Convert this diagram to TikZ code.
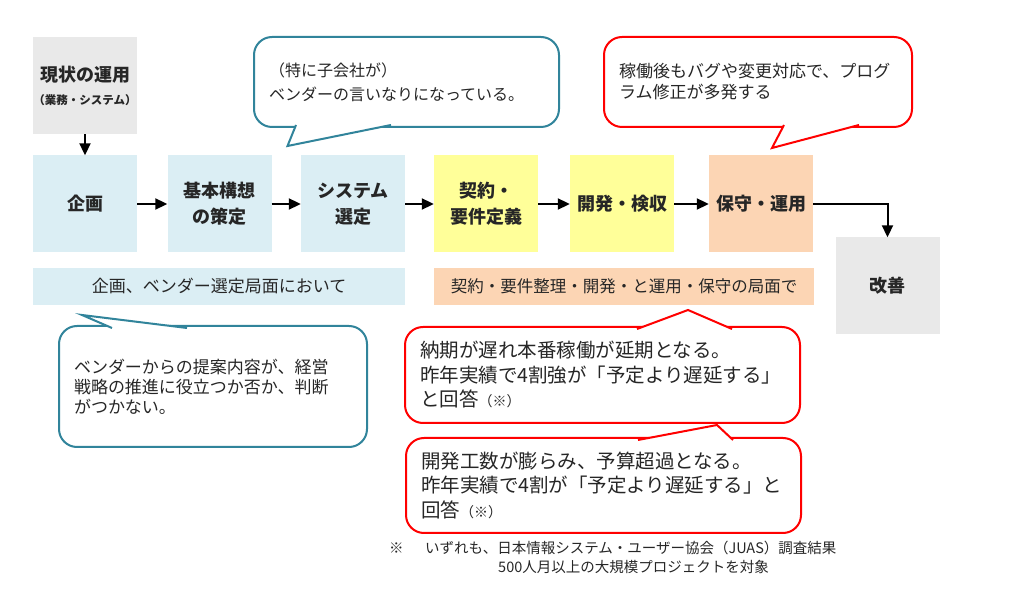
\documentclass[tikz,border=0pt]{standalone}
\usepackage{fontspec}
\setmainfont{Noto Sans CJK JP}
\usetikzlibrary{arrows.meta}
\definecolor{phaseblue}{HTML}{DBEEF4}
\definecolor{phaseyellow}{HTML}{FFFF99}
\definecolor{phasepeach}{HTML}{FCD5B4}
\definecolor{phasegray}{HTML}{E9E9E9}
\definecolor{tealline}{HTML}{31849B}
\definecolor{redline}{HTML}{FF0000}
\definecolor{ink}{HTML}{262626}

\begin{document}
\begin{tikzpicture}[x=1pt, y=-1pt,
        >={Triangle[length=12pt,width=11pt]},
        phase/.style={minimum width=104pt, minimum height=97pt, inner sep=0pt, align=center,
            font=\fontsize{18}{26}\selectfont\bfseries, text=ink},
        band/.style={minimum width=#1, minimum height=37pt, inner sep=0pt, text=ink},
        flow/.style={->, line width=2pt},
        callout/.style={draw=#1, line width=2pt, fill=white, rounded corners=18pt,
            inner xsep=15pt, inner ysep=0pt, align=left, text=ink},
        tail/.style={draw=#1, line width=2pt, fill=white, line join=miter},
        note/.style={anchor=west, inner sep=0pt, text=ink, font=\fontsize{14.5}{17}\selectfont}]
        \useasboundingbox (0,0) rectangle (1013,609);

        \node [phase, fill=phasegray] (genjo) at (85,85.5)
            {現状の運用\\[-3pt]{\fontsize{11.5}{14}\selectfont （業務・システム）}};
        \node [phase, fill=phaseblue] (kikaku) at (85,204) {企画};
        \node [phase, fill=phaseblue] (kihon) at (219.5,204) {基本構想\\の策定};
        \node [phase, fill=phaseblue] (sentei) at (353,204) {システム\\選定};
        \node [phase, fill=phaseyellow] (keiyaku) at (486,204) {契約・\\要件定義};
        \node [phase, fill=phaseyellow] (kaihatsu) at (622,204) {開発・検収};
        \node [phase, fill=phasepeach] (hoshu) at (761,204) {保守・運用};
        \node [phase, fill=phasegray] (kaizen) at (887.5,286) {改善};

        \node [band=372pt, fill=phaseblue, font=\fontsize{17}{20}\selectfont] (band1) at (219,286.5)
            {企画、ベンダー選定局面において};
        \node [band=380pt, fill=phasepeach, font=\fontsize{16.5}{20}\selectfont] (band2) at (624,286.5)
            {契約・要件整理・開発・と運用・保守の局面で};

        \draw [flow] (genjo) -- (kikaku);
        \draw [flow] (kikaku) -- (kihon);
        \draw [flow] (kihon) -- (sentei);
        \draw [flow] (sentei) -- (keiyaku);
        \draw [flow] (keiyaku) -- (kaihatsu);
        \draw [flow] (kaihatsu) -- (hoshu);
        \draw [flow] (hoshu) -| (kaizen);

        \node [callout=tealline, text width=275pt, minimum height=90pt, font=\fontsize{16}{24}\selectfont]
            (voice1) at (406.5,82) {（特に子会社が）\\ベンダーの言いなりになっている。};
        \draw [tail=tealline] (296,125) -- (287.5,146) -- (391,125);

        \node [callout=redline, text width=278pt, minimum height=90pt, font=\fontsize{17}{21}\selectfont]
            (voice2) at (758,82) {稼働後もバグや変更対応で、プログ\\ラム修正が多発する};
        \draw [tail=redline] (784,125) -- (772,148) -- (859,125);

        \node [callout=tealline, text width=278pt, minimum height=121pt, font=\fontsize{17}{20}\selectfont]
            (voice3) at (213,386.5) {ベンダーからの提案内容が、経営\\戦略の推進に役立つか否か、判断\\がつかない。};
        \draw [tail=tealline] (112,328) -- (82,315) -- (187,328);

        \node [callout=redline, text width=365pt, minimum height=96pt, font=\fontsize{19.5}{24.5}\selectfont]
            (voice4) at (602.5,375) {納期が遅れ本番稼働が延期となる。\\昨年実績で4割強が「予定より遅延する」\\と回答{\fontsize{14}{14}\selectfont （※）}};
        \draw [tail=redline] (637,329) -- (688,310) -- (732,329);

        \node [callout=redline, text width=365pt, minimum height=95pt, font=\fontsize{19.5}{24.5}\selectfont]
            (voice5) at (603.5,485.5) {開発工数が膨らみ、予算超過となる。\\昨年実績で4割が「予定より遅延する」と\\回答{\fontsize{14}{14}\selectfont （※）}};
        \draw [tail=redline] (638,440) -- (717,425) -- (733,440);

        \node [note] (mark) at (389,548) {※};
        \node [note] (note1) at (425,548) {いずれも、日本情報システム・ユーザー協会（JUAS）調査結果};
        \node [note] (note2) at (498,567) {500人月以上の大規模プロジェクトを対象};
    \end{tikzpicture}
\end{document}
